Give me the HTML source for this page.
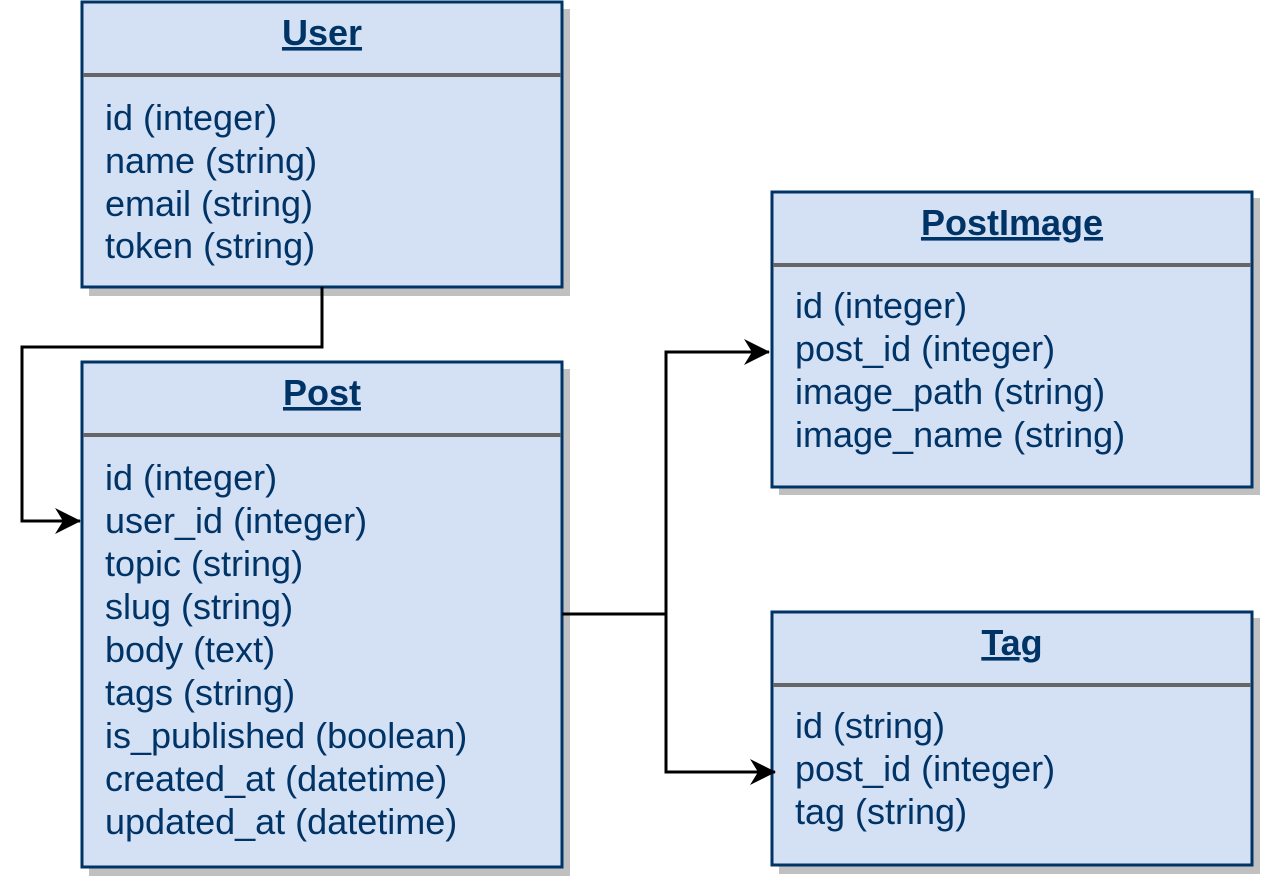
<!DOCTYPE html>
<html><head><meta charset="utf-8"><style>html,body{margin:0;padding:0;background:#fff;}svg{display:block}</style></head>
<body>
<svg width="1263" height="879" viewBox="0 0 1263 879" xmlns="http://www.w3.org/2000/svg" font-family="Liberation Sans, Arial, sans-serif">
<defs>
<marker id="a" markerWidth="26" markerHeight="26" refX="25" refY="13" orient="auto" markerUnits="userSpaceOnUse">
<path d="M0,0 L26,13 L0,26 L8,13 Z" fill="#000"/>
</marker>
</defs>
<g fill="#c0c0c0">
<rect x="89" y="9" width="481" height="287"/>
<rect x="89" y="369" width="481" height="507"/>
<rect x="779" y="198" width="481" height="297"/>
<rect x="779" y="618" width="481" height="256"/>
</g>
<g fill="#d4e1f5" stroke="#003366" stroke-width="3">
<rect x="82" y="2" width="480" height="285"/>
<rect x="82" y="362" width="480" height="505"/>
<rect x="772" y="192" width="480" height="295"/>
<rect x="772" y="612" width="480" height="253"/>
</g>
<g stroke="#666" stroke-width="4">
<line x1="83" y1="75" x2="561" y2="75"/>
<line x1="83" y1="435" x2="561" y2="435"/>
<line x1="773" y1="265" x2="1251" y2="265"/>
<line x1="773" y1="685" x2="1251" y2="685"/>
</g>
<g fill="none" stroke="#000" stroke-width="3">
<path d="M322,287 V347 H22 V521 H80" marker-end="url(#a)"/>
<path d="M562,614 H666 V352 H769" marker-end="url(#a)"/>
<path d="M666,614 V772 H775" marker-end="url(#a)"/>
</g>
<g fill="#003366" font-size="36" font-weight="bold" text-anchor="middle" text-decoration="underline">
<text x="322" y="45">User</text>
<text x="322" y="405">Post</text>
<text x="1012" y="235">PostImage</text>
<text x="1012" y="655">Tag</text>
</g>
<g fill="#003366" font-size="36">
<text x="105" y="130">id (integer)</text>
<text x="105" y="173">name (string)</text>
<text x="105" y="216">email (string)</text>
<text x="105" y="258">token (string)</text>

<text x="105" y="490">id (integer)</text>
<text x="105" y="533">user_id (integer)</text>
<text x="105" y="576">topic (string)</text>
<text x="105" y="619">slug (string)</text>
<text x="105" y="662">body (text)</text>
<text x="105" y="705">tags (string)</text>
<text x="105" y="748">is_published (boolean)</text>
<text x="105" y="791">created_at (datetime)</text>
<text x="105" y="834">updated_at (datetime)</text>

<text x="795" y="318">id (integer)</text>
<text x="795" y="361">post_id (integer)</text>
<text x="795" y="404">image_path (string)</text>
<text x="795" y="447">image_name (string)</text>

<text x="795" y="738">id (string)</text>
<text x="795" y="781">post_id (integer)</text>
<text x="795" y="824">tag (string)</text>
</g>
</svg>
</body></html>
